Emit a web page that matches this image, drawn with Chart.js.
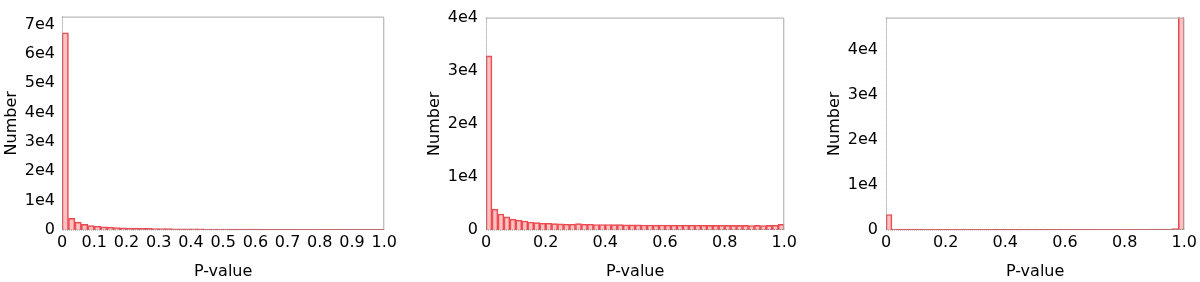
<!DOCTYPE html>
<html>
<head>
<meta charset="utf-8">
<script src="https://cdn.jsdelivr.net/npm/chart.js@4"></script>
<style>
  body { margin: 0; background: #fff; }
  canvas { position: absolute; top: 0; }
</style>
</head>
<body>
<canvas id="c1" width="400" height="282" style="left:0px"></canvas>
<canvas id="c2" width="400" height="282" style="left:400px"></canvas>
<canvas id="c3" width="400" height="282" style="left:800px"></canvas>
<script>
// left edges of the 50 p-value bins
const binLeft = [
  0.00, 0.02, 0.04, 0.06, 0.08, 0.10, 0.12, 0.14, 0.16, 0.18,
  0.20, 0.22, 0.24, 0.26, 0.28, 0.30, 0.32, 0.34, 0.36, 0.38,
  0.40, 0.42, 0.44, 0.46, 0.48, 0.50, 0.52, 0.54, 0.56, 0.58,
  0.60, 0.62, 0.64, 0.66, 0.68, 0.70, 0.72, 0.74, 0.76, 0.78,
  0.80, 0.82, 0.84, 0.86, 0.88, 0.90, 0.92, 0.94, 0.96, 0.98
];
const binWidth = 0.02;

const countsA = [
  67200, 3960, 2680, 1930, 1500, 1280, 1070, 960, 860, 750,
  680, 640, 590, 550, 520, 490, 460, 440, 420, 400,
  380, 360, 350, 340, 330, 320, 310, 300, 290, 280,
  280, 270, 260, 260, 250, 250, 240, 240, 230, 230,
  230, 220, 220, 220, 210, 210, 210, 200, 200, 210
];
const countsB = [
  32800, 3920, 3010, 2470, 2050, 1870, 1690, 1510, 1390, 1270,
  1270, 1210, 1150, 1090, 1090, 1210, 1090, 1090, 1030, 1030,
  1030, 1020, 1020, 970, 970, 960, 950, 940, 930, 950,
  920, 910, 900, 920, 900, 890, 900, 880, 880, 900,
  870, 880, 860, 870, 850, 860, 850, 860, 900, 1050
];
const countsC = [
  3450, 220, 200, 190, 180, 180, 175, 170, 170, 170,
  165, 170, 165, 165, 160, 165, 160, 160, 160, 165,
  160, 160, 155, 160, 160, 155, 160, 155, 160, 155,
  160, 155, 155, 160, 155, 160, 155, 160, 160, 165,
  165, 170, 170, 175, 180, 190, 200, 220, 300, 48500
];

const yTicksA = [0, 10000, 20000, 30000, 40000, 50000, 60000, 70000];
const yTicksB = [0, 10000, 20000, 30000, 40000];
const yTicksC = [0, 10000, 20000, 30000, 40000];
const xTicksA = [0, 0.1, 0.2, 0.3, 0.4, 0.5, 0.6, 0.7, 0.8, 0.9, 1.0];
const xTicksB = [0, 0.2, 0.4, 0.6, 0.8, 1.0];

const FONT = { family: 'DejaVu Sans', size: 16 };

const framePlugin = {
  id: 'frame',
  afterDatasetsDraw(chart) {
    const { ctx, chartArea: a } = chart;
    ctx.save();
    ctx.lineWidth = 1;
    ctx.strokeStyle = '#a8a8a8';
    ctx.beginPath();
    ctx.moveTo(a.left, a.top + 0.5);
    ctx.lineTo(a.right - 0.5, a.top + 0.5);
    ctx.lineTo(a.right - 0.5, a.bottom);
    ctx.stroke();
    ctx.strokeStyle = '#8a8a8a';
    ctx.setLineDash([1, 1]);
    ctx.beginPath();
    ctx.moveTo(a.left + 0.5, a.top);
    ctx.lineTo(a.left + 0.5, a.bottom);
    ctx.lineTo(a.right, a.bottom - 0.5);
    ctx.stroke();
    ctx.restore();
  }
};

const makeHist = (id, counts, yMax, yTicks, xTicks, sizes) => {
  const ctx = document.getElementById(id).getContext('2d');
  return new Chart(ctx, {
    type: 'bar',
    data: {
      datasets: [{
        data: binLeft.map((b, i) => ({ x: b + binWidth / 2, y: counts[i] })),
        backgroundColor: 'rgba(255, 120, 120, 0.45)',
        borderColor: 'rgb(232, 72, 80)',
        borderWidth: 1,
        barPercentage: 1,
        categoryPercentage: 1
      }]
    },
    options: {
      responsive: false,
      animation: false,
      devicePixelRatio: 1,
      layout: { padding: { left: 0, right: sizes.right, top: sizes.top, bottom: 0 } },
      plugins: { legend: { display: false }, tooltip: { enabled: false } },
      scales: {
        x: {
          type: 'linear',
          min: 0,
          max: 1,
          offset: false,
          grid: { display: false, drawTicks: false, offset: false },
          border: { display: false },
          afterBuildTicks: (axis) => { axis.ticks = xTicks.map(v => ({ value: v })); },
          afterFit: (axis) => { axis.height = 52; },
          ticks: {
            color: '#000',
            font: FONT,
            padding: 3,
            maxRotation: 0,
            autoSkip: false,
            callback: (v) => v === 0 ? '0' : v.toFixed(1)
          },
          title: { display: true, text: 'P-value', color: '#000', font: FONT, padding: { top: 0, bottom: 1 } }
        },
        y: {
          min: 0,
          max: yMax,
          grid: { display: false, drawTicks: false },
          border: { display: false },
          afterBuildTicks: (axis) => { axis.ticks = yTicks.map(v => ({ value: v })); },
          afterFit: (axis) => { axis.width = sizes.left; },
          ticks: {
            color: '#000',
            font: FONT,
            padding: sizes.tickPad,
            callback: (v) => v === 0 ? '0' : (v / 10000) + 'e4'
          },
          title: { display: true, text: 'Number', color: '#000', font: FONT, padding: { top: sizes.titlePad, bottom: 0 } }
        }
      }
    },
    plugins: [framePlugin]
  });
};

makeHist('c1', countsA, 72700, yTicksA, xTicksA, { left: 62, right: 14, top: 4, tickPad: 7, titlePad: 2 });
makeHist('c2', countsB, 40000, yTicksB, xTicksB, { left: 86, right: 14, top: 9, tickPad: 8, titlePad: 25 });
makeHist('c3', countsC, 47200, yTicksC, xTicksB, { left: 86, right: 14, top: 2, tickPad: 8, titlePad: 25 });
</script>
</body>
</html>
